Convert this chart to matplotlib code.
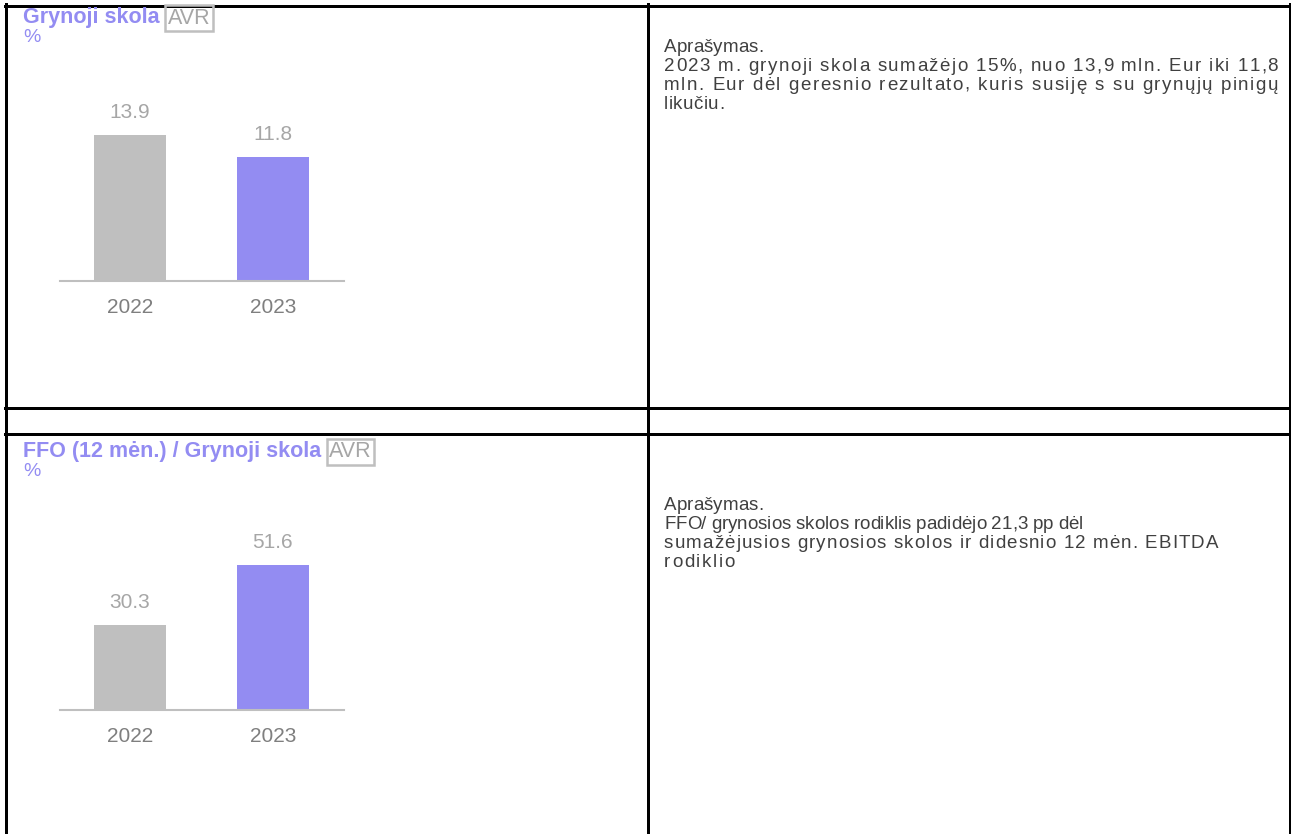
import matplotlib
matplotlib.use("Agg")
import matplotlib.pyplot as plt
from matplotlib.lines import Line2D
from matplotlib.font_manager import FontProperties, findfont, get_font

plt.rcParams["font.family"] = ["Liberation Sans", "DejaVu Sans"]

W, H = 1291, 834

years = ["2022", "2023"]
net_debt = [13.9, 11.8]
ffo_ratio = [30.3, 51.6]

titles = ["Grynoji skola", "FFO (12 mėn.) / Grynoji skola"]
unit = "%"
badge = "AVR"

desc_1 = [
    "Aprašymas.",
    "2023 m. grynoji skola sumažėjo 15%, nuo 13,9 mln. Eur iki 11,8",
    "mln. Eur dėl geresnio rezultato, kuris susiję s su grynųjų pinigų",
    "likučiu.",
]
desc_2 = [
    "Aprašymas.",
    "FFO/ grynosios skolos rodiklis padidėjo 21,3 pp dėl",
    "sumažėjusios grynosios skolos ir didesnio 12 mėn. EBITDA",
    "rodiklio",
]
# right edge (px) each description line is spread to, None = natural width
ends_1 = [None, 1278, 1278, 724]
ends_2 = [None, 1083, 1218, 735]

PURPLE = "#938cf2"
GREY_BAR = "#bfbfbf"
VAL_COL = "#a6a6a6"
YEAR_COL = "#7f7f7f"
TXT_COL = "#404040"
DESC_SIZE = 13.5


def fx(x):
    return x / W


def fy(y):
    return 1 - y / H


fig = plt.figure(figsize=(W / 100, H / 100), dpi=100)
renderer = fig.canvas.get_renderer()

ft = get_font(findfont(FontProperties(family="Liberation Sans")))
ft.set_size(DESC_SIZE, 100)


def advance(c):
    return ft.load_char(ord(c)).linearHoriAdvance / 65536


def hline(y, x0, x1, lw):
    fig.add_artist(Line2D([fx(x0), fx(x1)], [fy(y), fy(y)], color="black",
                          lw=lw * 0.72, transform=fig.transFigure))


def vline(x, y0, y1, lw):
    fig.add_artist(Line2D([fx(x), fx(x)], [fy(y0), fy(y1)], color="black",
                          lw=lw * 0.72, transform=fig.transFigure))


# table grid
hline(5.5, 5, 1290.5, 3)
hline(408, 5, 1290.5, 3)
hline(434, 5, 1290.5, 3)
vline(6.3, 4, H, 3)
vline(647.5, 4, H, 3)
vline(1289.5, 4, H, 2)


def desc_line(x0, y, text, end=None):
    # the source spreads its lines with extra letter spacing, so place glyph by glyph
    adv = [advance(c) for c in text]
    track = 0 if end is None else (end - x0 - sum(adv)) / (len(text) - 1)
    x = x0
    for c, a in zip(text, adv):
        if c != " ":
            fig.text(fx(x), fy(y + 5), c, fontsize=DESC_SIZE, color=TXT_COL,
                     va="baseline", ha="left")
        x += a + track


def bar_panel(values, base_y, top_y, ymax, title, title_y, desc, ends, desc_y):
    left, right = 60, 344
    ax = fig.add_axes([fx(left), fy(base_y), (right - left) / W, (base_y - top_y) / H])
    xs = range(len(values))
    ax.bar(xs, values, width=0.503, color=[GREY_BAR, PURPLE])
    ax.set_xlim(-0.49, 1.497)
    ax.set_ylim(0, ymax)
    for s in ["top", "right", "left"]:
        ax.spines[s].set_visible(False)
    ax.spines["bottom"].set_color(GREY_BAR)
    ax.spines["bottom"].set_linewidth(1.5)
    ax.set_yticks([])
    ax.set_xticks(list(xs))
    ax.set_xticklabels(years, fontsize=15, color=YEAR_COL)
    ax.tick_params(axis="x", length=0, pad=12.5)
    for x, v in zip(xs, values):
        ax.annotate(f"{v:.1f}", (x, v), xytext=(0, 22.5), textcoords="offset pixels",
                    ha="center", va="center", fontsize=15, color=VAL_COL)

    t = fig.text(fx(23), fy(title_y), title, fontsize=15.5, fontweight="bold",
                 color=PURPLE, va="center", ha="left")
    bb = t.get_window_extent(renderer)
    fig.text(bb.x1 / W + fx(8), fy(title_y), badge, fontsize=15.5, color=VAL_COL,
             va="center", ha="left",
             bbox=dict(boxstyle="square,pad=0.12", fc="none", ec=GREY_BAR, lw=1.8))
    fig.text(fx(23), fy(title_y + 19), unit, fontsize=14, color=PURPLE,
             va="center", ha="left")

    for i, (line, end) in enumerate(zip(desc, ends)):
        desc_line(664, desc_y + 19 * i, line, end)


bar_panel(net_debt, 281, 100, 181 / 10.5, titles[0], 18, desc_1, ends_1, 47)
bar_panel(ffo_ratio, 710, 530, 180 / 2.81, titles[1], 452, desc_2, ends_2, 505)

fig.savefig("out.png", dpi=100)
